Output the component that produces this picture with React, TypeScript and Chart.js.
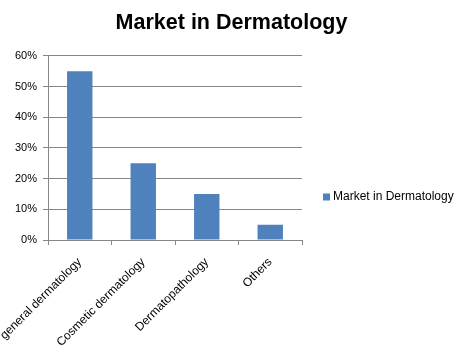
import React, { useEffect, useRef } from "react";
import { Chart, registerables } from "chart.js";

Chart.register(...registerables);

const categories = ["general dermatology", "Cosmetic dermatology", "Dermatopathology", "Others"];
const seriesName = "Market in Dermatology";
const values = [55, 25, 15, 5];
const yTicks = [0, 10, 20, 30, 40, 50, 60];

const FONT = "'Liberation Sans', Arial, sans-serif";

const sideLegend = {
  id: "sideLegend",
  afterDraw(chart: any) {
    const ctx = chart.ctx;
    const ds = chart.data.datasets[0];
    const x = chart.chartArea.right + 21;
    const y = 197;
    ctx.save();
    ctx.fillStyle = ds.backgroundColor;
    ctx.fillRect(x, y - 3.5, 7, 7);
    ctx.fillStyle = "#000";
    ctx.font = `12px ${FONT}`;
    ctx.textBaseline = "middle";
    ctx.textAlign = "left";
    ctx.fillText(ds.label, x + 10, y);
    ctx.restore();
  },
};

export default function App() {
  const ref = useRef<HTMLCanvasElement>(null);
  useEffect(() => {
    const ctx = ref.current!.getContext("2d")!;
    const chart = new Chart(ctx, {
      type: "bar",
      data: {
        labels: categories,
        datasets: [
          {
            label: seriesName,
            data: values,
            backgroundColor: "#4F81BD",
            borderWidth: 0,
            categoryPercentage: 1,
            barPercentage: 0.4,
          },
        ],
      },
      plugins: [sideLegend],
      options: {
        animation: false,
        responsive: false,
        maintainAspectRatio: false,
        layout: { padding: 0 },
        plugins: {
          title: {
            display: true,
            text: "Market in Dermatology",
            color: "#000",
            font: { family: FONT, size: 21.5, weight: "bold" },
            padding: { top: 10, bottom: 20 },
          },
          legend: { display: false },
          tooltip: { enabled: false },
        },
        scales: {
          x: {
            afterFit: (scale: any) => {
              scale.height = 110;
              scale.paddingLeft = 0;
              scale.paddingRight = 0;
            },
            grid: {
              offset: true,
              drawOnChartArea: false,
              drawTicks: true,
              tickLength: 5,
              color: "#868686",
            },
            border: { color: "#868686" },
            ticks: {
              color: "#000",
              font: { family: FONT, size: 12 },
              minRotation: 45,
              maxRotation: 45,
              padding: 10,
            },
          },
          y: {
            min: 0,
            max: 60,
            afterFit: (scale: any) => {
              scale.width = 48;
            },
            afterBuildTicks: (scale: any) => {
              scale.ticks = yTicks.map((v) => ({ value: v }));
            },
            grid: { color: "#868686", tickLength: 5 },
            border: { color: "#868686" },
            ticks: {
              color: "#000",
              font: { family: FONT, size: 11 },
              callback: (v: any) => v + "%",
              padding: 6,
            },
          },
          spacer: {
            type: "linear",
            position: "right",
            display: true,
            grid: { display: false, drawTicks: false },
            border: { display: false },
            ticks: { display: false },
            afterFit: (scale: any) => {
              scale.width = 161;
            },
          },
        },
      },
    });
    return () => chart.destroy();
  }, []);
  return (
    <div style={{ position: "absolute", left: 0, top: 0, width: 463, height: 350, background: "#fff" }}>
      <canvas ref={ref} width={463} height={350} style={{ width: 463, height: 350 }} />
    </div>
  );
}
